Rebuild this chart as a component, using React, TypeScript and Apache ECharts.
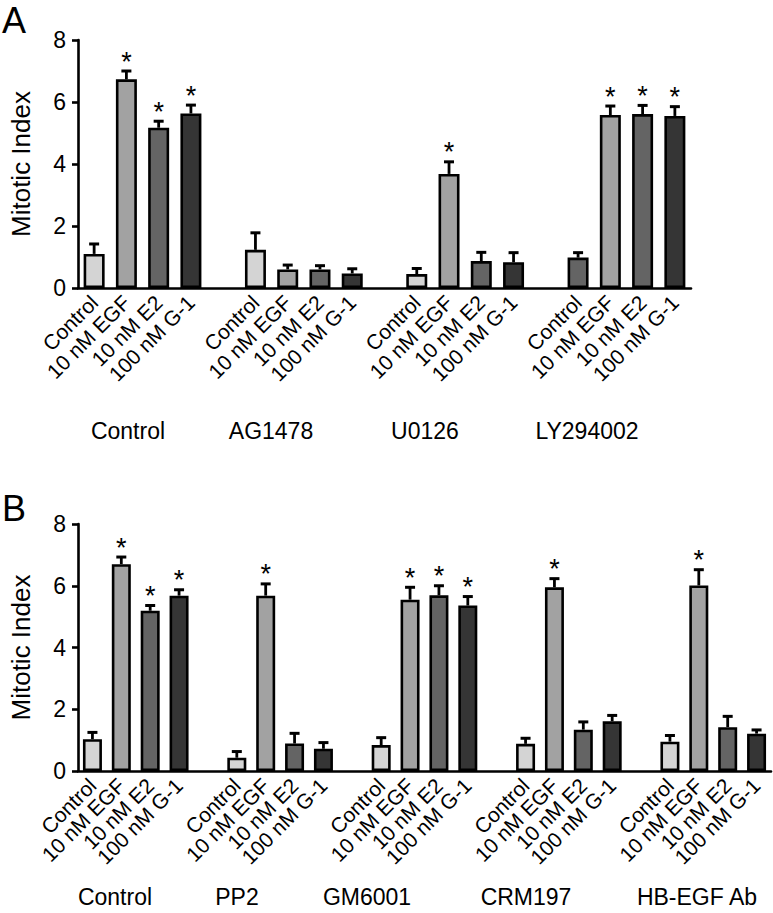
import React, { useEffect, useRef } from "react";
import * as echarts from "echarts";

const treatments = ["Control", "10 nM EGF", "10 nM E2", "100 nM G-1"];
const shades = ["#d4d4d4", "#a2a2a2", "#646464", "#353535"];
const yTicks = [0, 2, 4, 6, 8];

const groupsA = ["Control", "AG1478", "U0126", "LY294002"];
const meansA = [
  [1.1, 6.73, 5.17, 5.63],
  [1.23, 0.6, 0.6, 0.47],
  [0.45, 3.68, 0.87, 0.83],
  [0.98, 5.58, 5.61, 5.55],
];
const semA = [
  [0.32, 0.27, 0.21, 0.27],
  [0.55, 0.14, 0.12, 0.15],
  [0.18, 0.39, 0.28, 0.31],
  [0.16, 0.29, 0.28, 0.3],
];
const sigA = [
  [0, 1, 1, 1],
  [0, 0, 0, 0],
  [0, 1, 0, 0],
  [0, 1, 1, 1],
];
const shadeIdxA = [
  [0, 1, 2, 3],
  [0, 1, 2, 3],
  [0, 1, 2, 3],
  [2, 1, 2, 3],
];

const groupsB = ["Control", "PP2", "GM6001", "CRM197", "HB-EGF Ab"];
const meansB = [
  [1.03, 6.7, 5.19, 5.68],
  [0.43, 5.68, 0.89, 0.72],
  [0.84, 5.55, 5.69, 5.36],
  [0.88, 5.95, 1.34, 1.61],
  [0.95, 6.01, 1.42, 1.21],
];
const semB = [
  [0.22, 0.23, 0.17, 0.19],
  [0.2, 0.38, 0.33, 0.2],
  [0.24, 0.4, 0.31, 0.29],
  [0.18, 0.28, 0.25, 0.19],
  [0.2, 0.51, 0.35, 0.12],
];
const sigB = [
  [0, 1, 1, 1],
  [0, 1, 0, 0],
  [0, 1, 1, 1],
  [0, 1, 0, 0],
  [0, 1, 0, 0],
];
const shadeIdxB = [
  [0, 1, 2, 3],
  [0, 1, 2, 3],
  [0, 1, 2, 3],
  [0, 1, 2, 3],
  [0, 1, 2, 3],
];

const FONT = "Liberation Sans";

function buildPanel(
  groups: string[],
  means: number[][],
  sems: number[][],
  sigs: number[][],
  shadeIdx: number[][]
) {
  const cats: string[] = [];
  const bars: any[] = [];
  const errs: any[] = [];
  groups.forEach((_, g) => {
    treatments.forEach((t, i) => {
      const idx = cats.length;
      cats.push(t);
      bars.push({ value: means[g][i], itemStyle: { color: shades[shadeIdx[g][i]] } });
      errs.push([idx, means[g][i], sems[g][i], sigs[g][i]]);
    });
    if (g < groups.length - 1) {
      cats.push("");
      bars.push("-");
    }
  });
  return { cats, bars, errs };
}

const panelA = buildPanel(groupsA, meansA, semA, sigA, shadeIdxA);
const panelB = buildPanel(groupsB, meansB, semB, sigB, shadeIdxB);

function errRender(params: any, api: any) {
  const x = api.value(0);
  const m = api.value(1);
  const s = api.value(2);
  const sig = api.value(3);
  const p0 = api.coord([x, m]);
  const p1 = api.coord([x, m + s]);
  const cap = 5;
  const children: any[] = [
    {
      type: "line",
      shape: { x1: p0[0], y1: p0[1], x2: p1[0], y2: p1[1] },
      style: { stroke: "#000", lineWidth: 2.8 },
    },
    {
      type: "line",
      shape: { x1: p1[0] - cap, y1: p1[1], x2: p1[0] + cap, y2: p1[1] },
      style: { stroke: "#000", lineWidth: 3 },
    },
  ];
  if (sig) {
    children.push({
      type: "text",
      style: {
        text: "*",
        x: p1[0],
        y: p1[1] + 4,
        align: "center",
        verticalAlign: "bottom",
        font: `27px "${FONT}"`,
        fill: "#000",
      },
    });
  }
  return { type: "group", children };
}

function xAxisCfg(gridIndex: number, cats: string[], size: number) {
  return {
    type: "category",
    gridIndex,
    data: cats,
    axisLine: { show: true, lineStyle: { color: "#000", width: 2.6 } },
    axisTick: { show: false },
    axisLabel: {
      interval: 0,
      rotate: 45,
      margin: 11,
      fontSize: size,
      fontFamily: FONT,
      color: "#000",
    },
  };
}

function yAxisCfg(gridIndex: number) {
  return {
    type: "value",
    gridIndex,
    min: 0,
    max: 8,
    interval: 2,
    name: "Mitotic Index",
    nameLocation: "middle",
    nameGap: 44,
    nameTextStyle: { fontSize: 26, fontFamily: FONT, color: "#000" },
    axisLine: { show: true, lineStyle: { color: "#000", width: 2.6 } },
    axisTick: { show: true, length: 6, lineStyle: { color: "#000", width: 2.6 } },
    axisLabel: {
      fontSize: 23,
      fontFamily: FONT,
      color: "#000",
      margin: 12,
      formatter: (v: number) => (yTicks.includes(v) ? String(v) : ""),
    },
    splitLine: { show: false },
  };
}

const groupLabelXA = [128, 271, 425, 587];
const groupLabelXB = [115, 237, 367, 526, 697];

export default function App() {
  const ref = useRef<HTMLDivElement>(null);
  useEffect(() => {
    if (!ref.current) return;
    const chart = echarts.init(ref.current, null, { renderer: "svg" });
    const groupText = (names: string[], xs: number[], y: number) =>
      names.map((n, i) => ({
        type: "text",
        x: xs[i],
        y,
        style: {
          text: n,
          align: "center",
          verticalAlign: "middle",
          font: `23px "${FONT}"`,
          fill: "#000",
        },
      }));
    chart.setOption({
      animation: false,
      backgroundColor: "#fff",
      grid: [
        { left: 66, top: 40, width: 625, height: 248 },
        { left: 70, top: 524, width: 701, height: 247 },
      ],
      xAxis: [xAxisCfg(0, panelA.cats, 21), xAxisCfg(1, panelB.cats, 21)],
      yAxis: [yAxisCfg(0), yAxisCfg(1)],
      series: [
        {
          type: "bar",
          xAxisIndex: 0,
          yAxisIndex: 0,
          data: panelA.bars,
          barWidth: 21,
          itemStyle: { borderColor: "#000", borderWidth: 2.6 },
          z: 2,
        },
        {
          type: "custom",
          xAxisIndex: 0,
          yAxisIndex: 0,
          data: panelA.errs,
          renderItem: errRender,
          z: 5,
        },
        {
          type: "bar",
          xAxisIndex: 1,
          yAxisIndex: 1,
          data: panelB.bars,
          barWidth: 19,
          itemStyle: { borderColor: "#000", borderWidth: 2.6 },
          z: 2,
        },
        {
          type: "custom",
          xAxisIndex: 1,
          yAxisIndex: 1,
          data: panelB.errs,
          renderItem: errRender,
          z: 5,
        },
      ],
      graphic: [
        {
          type: "text",
          x: 2,
          y: 20,
          style: { text: "A", font: `36px "${FONT}"`, fill: "#000", verticalAlign: "middle" },
        },
        {
          type: "text",
          x: 2,
          y: 508,
          style: { text: "B", font: `36px "${FONT}"`, fill: "#000", verticalAlign: "middle" },
        },
        ...groupText(groupsA, groupLabelXA, 431),
        ...groupText(groupsB, groupLabelXB, 897),
      ],
    });
    return () => chart.dispose();
  }, []);
  return (
    <div
      ref={ref}
      style={{ position: "absolute", left: 0, top: 0, width: 773, height: 913 }}
    />
  );
}
